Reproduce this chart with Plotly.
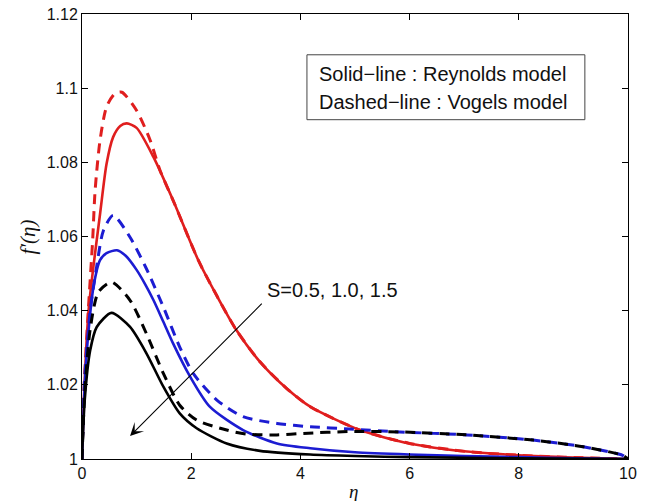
import plotly.graph_objects as go

# ---------------- data ----------------
# S = 0.5 (red), Reynolds model (solid)
red_solid_x = [0, 0.04, 0.12, 0.21, 0.33, 0.45, 0.57, 0.7, 0.82, 1.0, 1.31, 1.67, 2.13, 2.47, 2.83, 3.26, 3.75, 4.18, 5.09, 6.0, 7.05, 8.0, 9.0, 10]
red_solid_y = [1.0, 1.018, 1.04, 1.052, 1.066, 1.0796, 1.0868, 1.0898, 1.0905, 1.0893, 1.0814, 1.0697, 1.0536, 1.044, 1.0347, 1.0262, 1.019, 1.0141, 1.0078, 1.0042, 1.002, 1.001, 1.0004, 1.0]
# S = 0.5 (red), Vogels model (dashed)
red_dash_x = [0, 0.04, 0.115, 0.195, 0.24, 0.33, 0.45, 0.6, 0.73, 1.0, 1.25, 1.43, 1.67, 2.13, 2.47, 2.83, 3.26, 3.75, 4.18, 5.09, 6.0, 7.05, 8.0, 9.0, 10]
red_dash_y = [1.0, 1.02, 1.04, 1.059, 1.0724, 1.0859, 1.095, 1.0985, 1.0989, 1.094, 1.0859, 1.0778, 1.0697, 1.0536, 1.044, 1.0347, 1.0262, 1.019, 1.0141, 1.0078, 1.0042, 1.002, 1.001, 1.0004, 1.0]
# S = 1.0 (blue), Reynolds model (solid)
blue_solid_x = [0, 0.05, 0.115, 0.21, 0.33, 0.45, 0.64, 0.8, 1.0, 1.15, 1.31, 1.49, 1.67, 1.98, 2.34, 2.95, 3.57, 4.18, 5.0, 6.0, 7.0, 8.0, 9.0, 10]
blue_solid_y = [1.0, 1.02, 1.0338, 1.0464, 1.0536, 1.0555, 1.0563, 1.0548, 1.051, 1.0473, 1.0428, 1.037, 1.0311, 1.0222, 1.0141, 1.0078, 1.0042, 1.0029, 1.0018, 1.0012, 1.0008, 1.0005, 1.0002, 1.0]
# S = 1.0 (blue), Vogels model (dashed)
blue_dash_x = [0, 0.05, 0.15, 0.27, 0.39, 0.57, 0.88, 1.18, 1.49, 1.79, 2.04, 2.47, 2.95, 3.57, 4.18, 4.9, 5.82, 7.05, 8.26, 9.18, 9.9, 10]
blue_dash_y = [1.0, 1.022, 1.04, 1.052, 1.0615, 1.0657, 1.0598, 1.0513, 1.041, 1.0302, 1.023, 1.0159, 1.0114, 1.0096, 1.0087, 1.0081, 1.0073, 1.0065, 1.0051, 1.0033, 1.001, 1.0]
# S = 1.5 (black), Reynolds model (solid)
black_solid_x = [0, 0.05, 0.15, 0.27, 0.54, 0.88, 1.18, 1.49, 1.79, 2.1, 2.65, 3.26, 4.18, 5.0, 6.0, 8.0, 10]
black_solid_y = [1.0, 1.0159, 1.0293, 1.0356, 1.0394, 1.0356, 1.0285, 1.0195, 1.0123, 1.0083, 1.0042, 1.0022, 1.0012, 1.0008, 1.0005, 1.0002, 1.0]
# S = 1.5 (black), Vogels model (dashed)
black_dash_x = [0, 0.05, 0.15, 0.3, 0.54, 0.88, 1.18, 1.49, 1.79, 2.1, 2.65, 3.02, 3.57, 4.05, 4.9, 5.82, 7.05, 8.26, 9.18, 9.9, 10]
black_dash_y = [1.0, 1.018, 1.035, 1.045, 1.0477, 1.0428, 1.0338, 1.0231, 1.0145, 1.0105, 1.0078, 1.0067, 1.0065, 1.0069, 1.0074, 1.0073, 1.0065, 1.0051, 1.0033, 1.001, 1.0]

x_ticks = [0, 2, 4, 6, 8, 10]
x_tick_labels = ["0", "2", "4", "6", "8", "10"]
y_ticks = [1.0, 1.02, 1.04, 1.06, 1.08, 1.1, 1.12]
y_tick_labels = ["1", "1.02", "1.04", "1.06", "1.08", "1.1", "1.12"]

legend_lines = ["Solid\u2212line : Reynolds model", "Dashed\u2212line : Vogels model"]
arrow_label = "S=0.5, 1.0, 1.5"
x_title = "<i>\u03b7</i>"
y_title = "<i>f\u2032(\u03b7)</i>"

RED = "#e01e1e"
BLUE = "#1c1cd2"
BLACK = "#000000"
DASH = "10px,7px"
SANS = "Liberation Sans, Arial, sans-serif"
SERIF = "Liberation Serif, Times New Roman, serif"

fig = go.Figure()

series = [
    (red_solid_x, red_solid_y, RED, "solid", 2.6),
    (red_dash_x, red_dash_y, RED, DASH, 3.0),
    (blue_solid_x, blue_solid_y, BLUE, "solid", 2.6),
    (blue_dash_x, blue_dash_y, BLUE, DASH, 3.0),
    (black_solid_x, black_solid_y, BLACK, "solid", 2.6),
    (black_dash_x, black_dash_y, BLACK, DASH, 3.0),
]
for xs, ys, col, dash, w in series:
    fig.add_trace(go.Scatter(x=xs, y=ys, mode="lines",
                             line=dict(color=col, width=w, dash=dash, shape="spline", smoothing=0.7),
                             showlegend=False, hoverinfo="skip"))

axis_common = dict(showline=True, linecolor="black", linewidth=1, mirror="ticks",
                   ticks="inside", ticklen=6, tickcolor="black", tickwidth=1,
                   showgrid=False, zeroline=False, automargin=False,
                   tickfont=dict(family=SANS, size=16, color="#111"))

fig.update_layout(
    width=646, height=501,
    margin=dict(l=82, r=18, t=14, b=42),
    paper_bgcolor="white", plot_bgcolor="white",
    xaxis=dict(range=[0, 10], tickvals=x_ticks, ticktext=x_tick_labels, **axis_common),
    yaxis=dict(range=[1.0, 1.12], tickvals=y_ticks, ticktext=y_tick_labels, **axis_common),
)

# axis titles
fig.add_annotation(x=0.497, y=-0.072, xref="paper", yref="paper", text=x_title, showarrow=False,
                   xanchor="center", yanchor="middle", font=dict(family=SERIF, size=19, color="#111"))
fig.add_annotation(x=-0.099, y=0.5, xref="paper", yref="paper", text=y_title, showarrow=False,
                   textangle=-90, xanchor="center", yanchor="middle",
                   font=dict(family=SERIF, size=21, color="#111"))

# legend-style text box
fig.add_shape(type="rect", xref="x", yref="y", x0=4.12, x1=9.21, y0=1.0915, y1=1.109,
              line=dict(color="#444", width=1), fillcolor="white", layer="above")
for txt, yy in zip(legend_lines, [1.1039, 1.0964]):
    fig.add_annotation(x=4.30, y=yy, xref="x", yref="y", text=txt, showarrow=False,
                       xanchor="left", yanchor="middle",
                       font=dict(family=SANS, size=20, color="#111"))

# arrow and its label
fig.add_annotation(x=0.88, y=1.0062, ax=3.32, ay=1.0423, xref="x", yref="y", axref="x", ayref="y",
                   text="", showarrow=True, arrowhead=3, arrowsize=2.0, arrowwidth=1.1, arrowcolor="black")
fig.add_annotation(x=3.35, y=1.0455, xref="x", yref="y", text=arrow_label, showarrow=False,
                   xanchor="left", yanchor="middle",
                   font=dict(family=SANS, size=20, color="#111"))

fig.write_html("out.html")
